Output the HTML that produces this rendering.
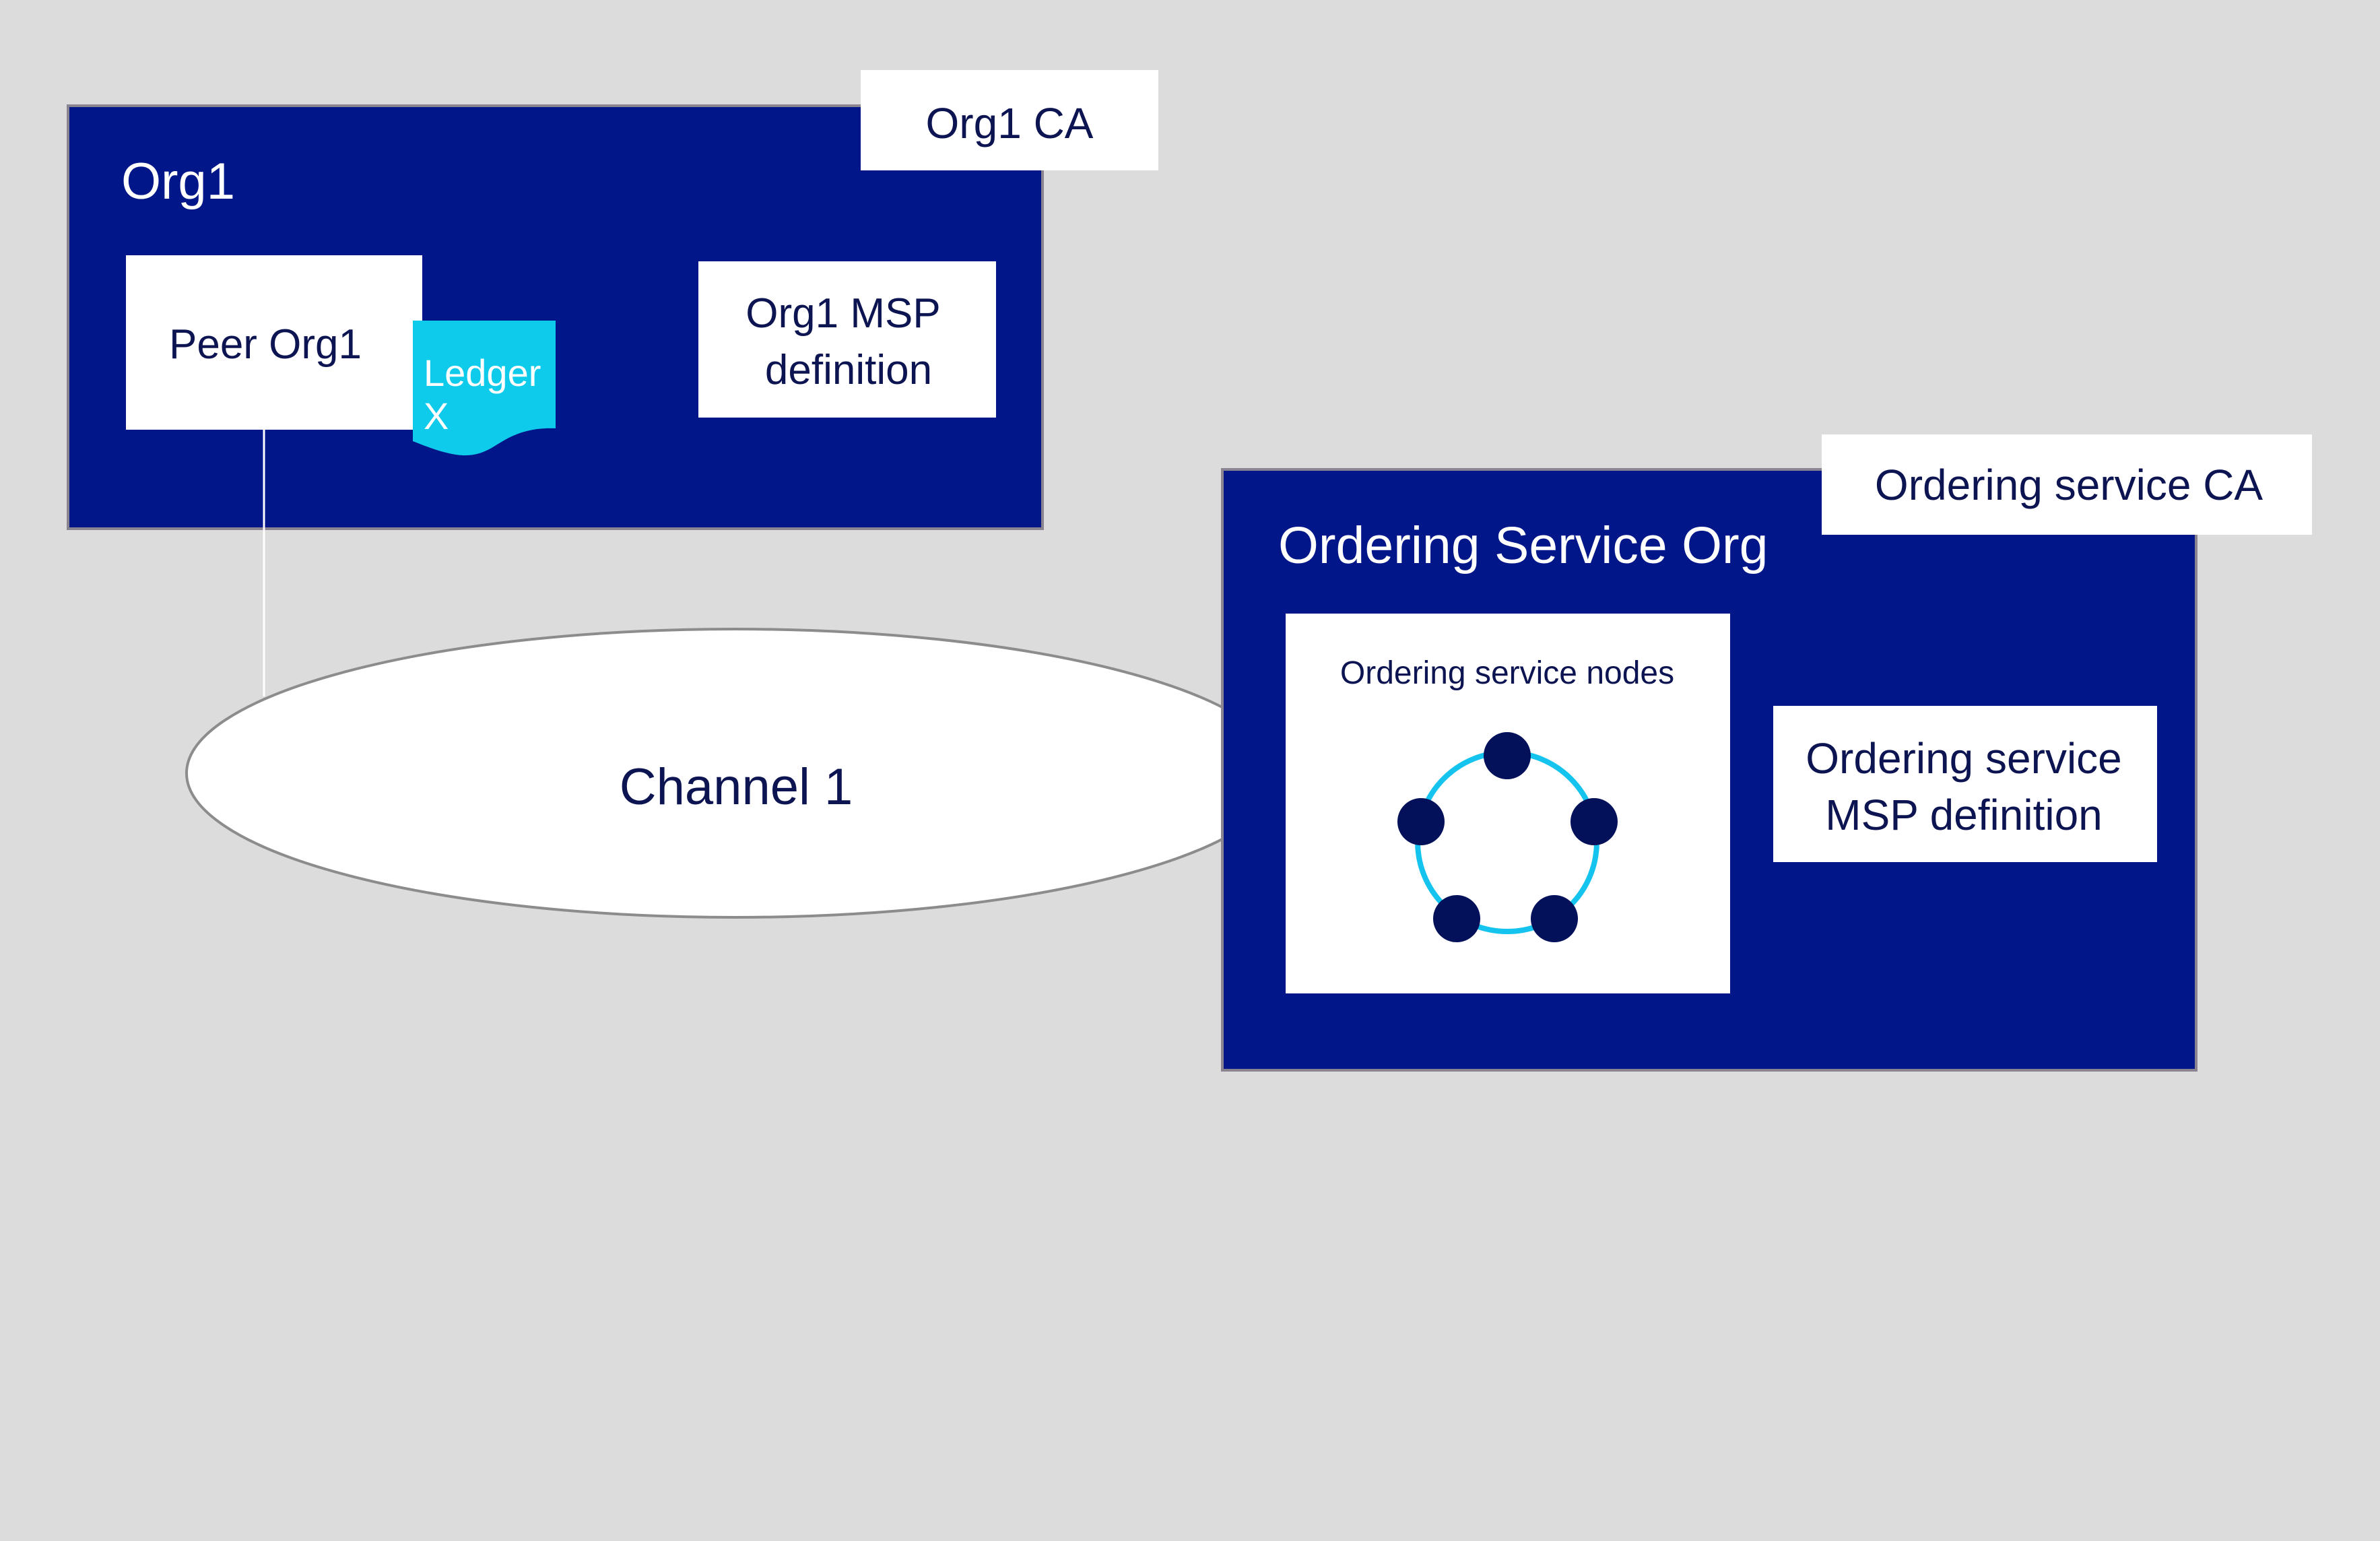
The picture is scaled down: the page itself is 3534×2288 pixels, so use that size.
<!DOCTYPE html>
<html><head><meta charset="utf-8"><style>
html,body{margin:0;padding:0;background:#dcdcdc;}
svg{display:block;}
text{font-family:"Liberation Sans",sans-serif;}
</style></head><body>
<svg width="3534" height="2288" viewBox="0 0 3534 2288" xmlns="http://www.w3.org/2000/svg">
<rect x="0" y="0" width="3534" height="2288" fill="#dcdcdc"/>
<rect x="101" y="157" width="1447" height="628" fill="#011689" stroke="#8a8490" stroke-width="4"/>
<rect x="1278" y="104" width="442" height="149" fill="#fff"/>
<text x="1499" y="205" font-size="64" fill="#0d1452" text-anchor="middle">Org1 CA</text>
<text x="180" y="295" font-size="76" fill="#fff">Org1</text>
<rect x="187" y="379" width="440" height="259" fill="#fff"/>
<text x="394" y="532" font-size="62" fill="#0d1452" text-anchor="middle">Peer Org1</text>
<path d="M613 476 H825 V636 C775 634 752 652 730 665 C700 682 675 680 613 655 Z" fill="#0fcbeb"/>
<text x="629" y="573" font-size="56" fill="#fff">Ledger</text>
<text x="629" y="637" font-size="56" fill="#fff">X</text>
<rect x="1037" y="388" width="442" height="232" fill="#fff"/>
<text x="1252" y="486" font-size="62" fill="#0d1452" text-anchor="middle">Org1 MSP</text>
<text x="1260" y="570" font-size="62" fill="#0d1452" text-anchor="middle">definition</text>
<line x1="392" y1="638" x2="392" y2="1034" stroke="#fff" stroke-width="3"/>
<ellipse cx="1091" cy="1148" rx="814" ry="214" fill="#fff" stroke="#8c8c8c" stroke-width="4"/>
<text x="1093" y="1194" font-size="76" fill="#0d1452" text-anchor="middle">Channel 1</text>
<rect x="1815" y="697" width="1446" height="892" fill="#011689" stroke="#8a8490" stroke-width="4"/>
<rect x="2705" y="645" width="728" height="149" fill="#fff"/>
<text x="3072" y="742" font-size="64" fill="#0d1452" text-anchor="middle">Ordering service CA</text>
<text x="1898" y="836" font-size="77" fill="#fff">Ordering Service Org</text>
<rect x="1909" y="911" width="660" height="564" fill="#fff"/>
<text x="2238" y="1015" font-size="48" fill="#0d1452" text-anchor="middle">Ordering service nodes</text>
<circle cx="2238" cy="1250" r="133" fill="none" stroke="#14c4ee" stroke-width="8"/>
<g fill="#03105a">
<circle cx="2238" cy="1122" r="35"/>
<circle cx="2110" cy="1220" r="35"/>
<circle cx="2367" cy="1220" r="35"/>
<circle cx="2163" cy="1364" r="35"/>
<circle cx="2308" cy="1364" r="35"/>
</g>
<rect x="2633" y="1048" width="570" height="232" fill="#fff"/>
<text x="2916" y="1148" font-size="64" fill="#0d1452" text-anchor="middle">Ordering service</text>
<text x="2916" y="1232" font-size="64" fill="#0d1452" text-anchor="middle">MSP definition</text>
</svg>
</body></html>
